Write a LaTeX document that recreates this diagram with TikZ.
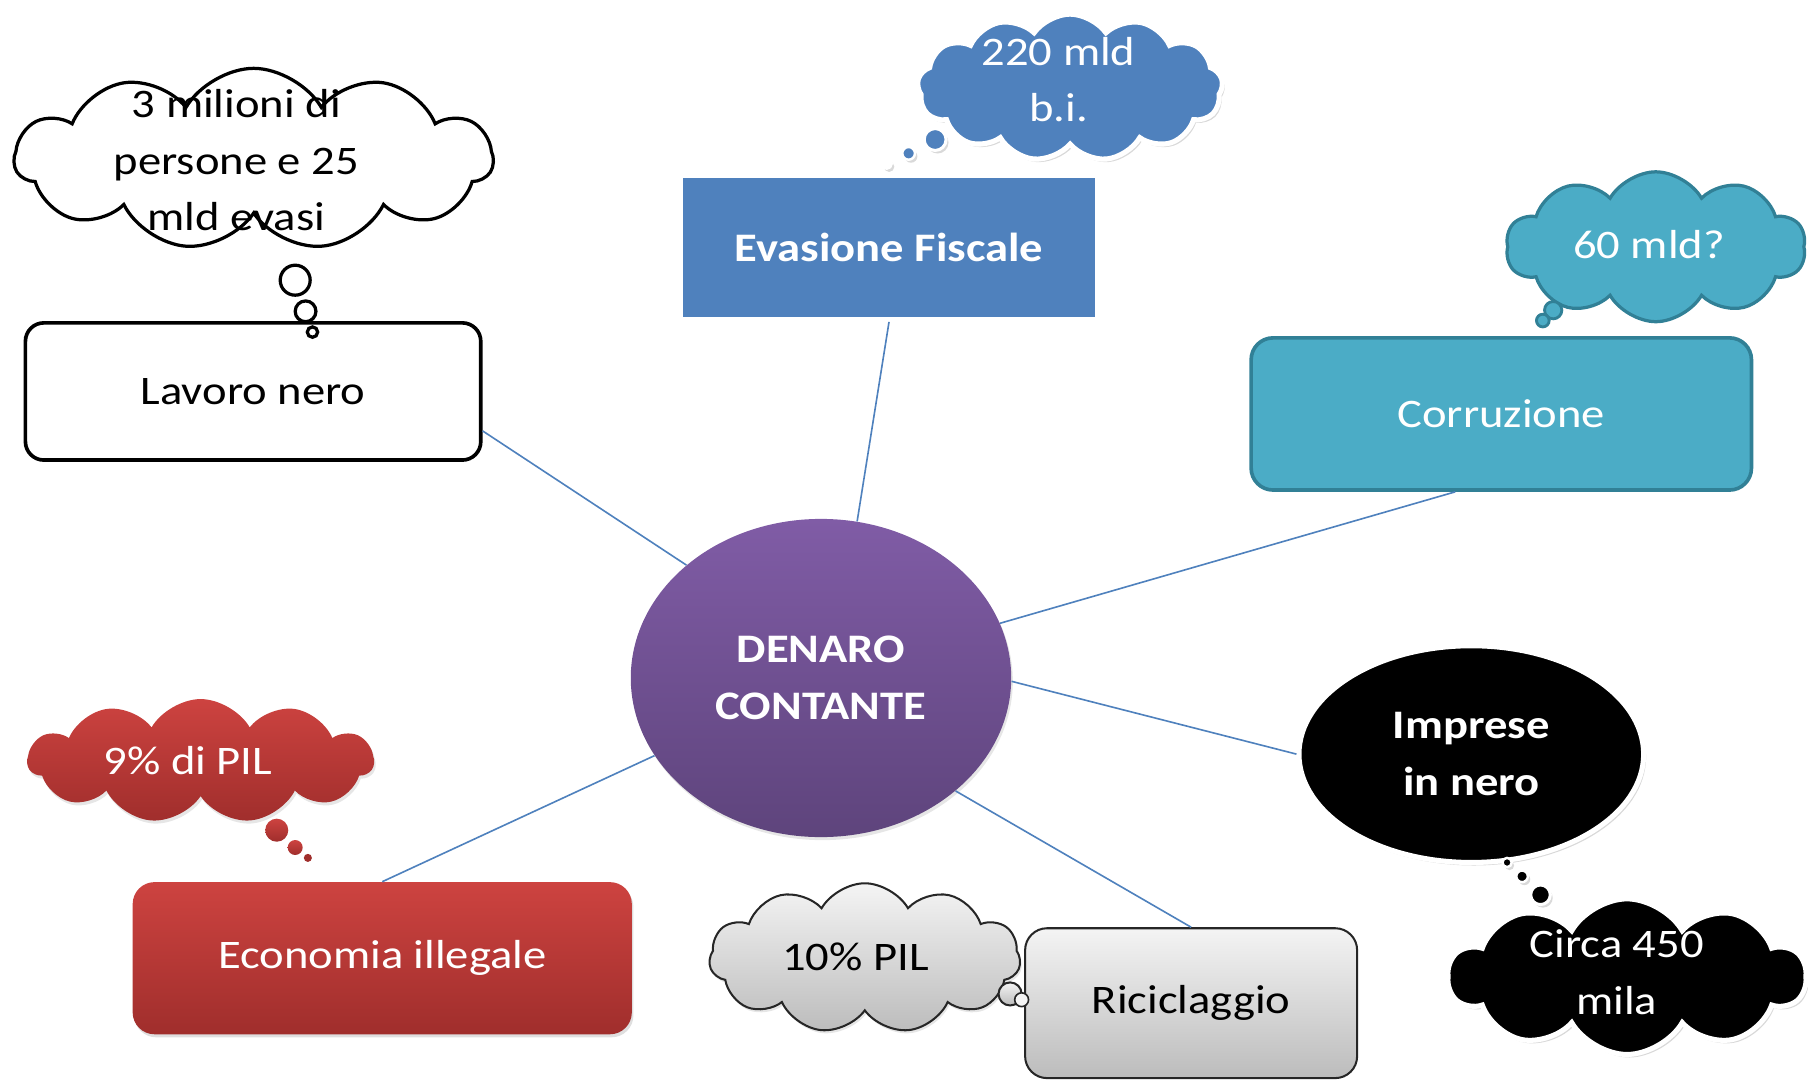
\documentclass[tikz,border=0pt]{standalone}
\usepackage{fontspec}
\setmainfont{Carlito}[FakeStretch=1.15]
\usetikzlibrary{shapes.symbols,shapes.geometric,shadows,calc}
\definecolor{blueA}{RGB}{79,129,189}
\definecolor{tealA}{RGB}{75,172,198}
\definecolor{tealD}{RGB}{49,128,150}
\definecolor{purpT}{RGB}{128,92,166}
\definecolor{purpB}{RGB}{94,68,124}
\definecolor{redT}{RGB}{205,67,64}
\definecolor{redB}{RGB}{160,46,44}
\definecolor{grayT}{RGB}{244,244,244}
\definecolor{grayB}{RGB}{188,188,188}
\begin{document}
\begin{tikzpicture}[x=0.02cm, y=-0.02cm,
  txt/.style={font=\fontsize{20}{28}\selectfont, align=center, inner sep=0pt},
  bx/.style={rectangle, inner sep=0pt, font=\fontsize{20}{28}\selectfont, align=center},
  cl/.style={cloud, cloud puffs=11, cloud puff arc=120, cloud ignores aspect, inner sep=0pt},
  bub/.style={circle, inner sep=0pt},
  shd/.style={drop shadow={opacity=0.3, shadow xshift=1.2pt, shadow yshift=-1.5pt}},
  link/.style={draw=blueA, line width=0.8pt}]
\useasboundingbox (0,0) rectangle (1568,936);

% ---- Lavoro nero
\node[bx, draw=black, line width=1.8pt, fill=white, rounded corners=0.32cm,
  minimum width=7.9cm, minimum height=2.38cm] (lav) at (219.5,339.5) {Lavoro nero};
\node[cl, draw=black, line width=1.6pt, fill=white, minimum width=8.3cm, minimum height=3.15cm] (c1) at (220,138) {};
\node[txt] (c1t) at (205,139) {3 milioni di\\persone e 25\\mld evasi};
\node[bub, draw=black, line width=1.6pt, fill=white, minimum size=0.52cm] (b11) at (256,243) {};
\node[bub, draw=black, line width=1.6pt, fill=white, minimum size=0.36cm] (b12) at (265,270) {};
\node[bub, draw=black, line width=1.6pt, fill=white, minimum size=0.18cm] (b13) at (271,288) {};

% ---- Evasione Fiscale
\node[bx, draw=white, line width=2.5pt, fill=blueA, shd, text=white, font=\fontsize{20}{28}\selectfont\bfseries,
  minimum width=7.24cm, minimum height=2.5cm] (eva) at (771,214.5) {Evasione Fiscale};
\node[cl, cloud puffs=13, cloud puff arc=110, draw=white, line width=2.5pt, fill=blueA, shd,
  minimum width=5.3cm, minimum height=2.55cm] (c2) at (928,76) {};
\node[txt, text=white] (c2t) at (918,69) {220 mld\\b.i.};
\node[bub, draw=white, line width=1.5pt, fill=blueA, shd, minimum size=0.38cm] (b21) at (811,121) {};
\node[bub, draw=white, line width=1.2pt, fill=blueA, shd, minimum size=0.22cm] (b22) at (788,133) {};
\node[bub, draw=white, line width=1pt, fill=white, shd, minimum size=0.18cm] (b23) at (769,142) {};

% ---- Corruzione
\node[bx, draw=tealD, line width=1.8pt, fill=tealA, text=white, rounded corners=0.38cm,
  minimum width=8.68cm, minimum height=2.64cm] (cor) at (1302,359) {Corruzione};
\node[cl, cloud puffs=10, draw=tealD, line width=1.6pt, fill=tealA, minimum width=5.2cm, minimum height=2.6cm] (c3) at (1436,214) {};
\node[txt, text=white] (c3t) at (1430,212) {60 mld?};
\node[bub, draw=tealD, line width=1.4pt, fill=tealA, minimum size=0.3cm] (b31) at (1347,269) {};
\node[bub, draw=tealD, line width=1.4pt, fill=tealA, minimum size=0.22cm] (b32) at (1338,278) {};

% ---- Centre
\node[ellipse, inner sep=0pt, minimum width=6.6cm, minimum height=5.52cm, top color=purpT, bottom color=purpB,
  drop shadow={opacity=0.2, shadow xshift=0.8pt, shadow yshift=-1.5pt},
  text=white, font=\fontsize{20}{28}\selectfont\bfseries, align=center] (den) at (712,588) {DENARO\\CONTANTE};

% ---- Imprese in nero
\node[ellipse, inner sep=0pt, minimum width=5.98cm, minimum height=3.76cm, fill=black, draw=white, line width=2.5pt, shd,
  text=white, font=\fontsize{20}{28}\selectfont\bfseries, align=center] (imp) at (1276,654) {Imprese\\in nero};
\node[cl, cloud puffs=10, draw=white, line width=2.5pt, fill=black, shd, minimum width=6.2cm, minimum height=2.7cm] (c4) at (1411,847) {};
\node[txt, text=white] (c4t) at (1402,843) {Circa 450\\mila};
\node[bub, draw=white, line width=1.2pt, fill=black, shd, minimum size=0.16cm] (b41) at (1307,748) {};
\node[bub, draw=white, line width=1.2pt, fill=black, shd, minimum size=0.2cm] (b42) at (1320,760) {};
\node[bub, draw=white, line width=1.5pt, fill=black, shd, minimum size=0.34cm] (b43) at (1336,776) {};

% ---- Economia illegale
\node[bx, top color=redT, bottom color=redB, text=white, rounded corners=0.38cm,
  drop shadow={opacity=0.25, shadow xshift=0.8pt, shadow yshift=-1.5pt},
  minimum width=8.66cm, minimum height=2.64cm] (eco) at (331.5,831) {Economia illegale};
\node[cl, top color=redT, bottom color=redB, minimum width=6.0cm, minimum height=2.15cm,
  drop shadow={opacity=0.2, shadow xshift=0.8pt, shadow yshift=-1.5pt}] (c5) at (174,660) {};
\node[txt, text=white] (c5t) at (163,660) {9\% di PIL};
\node[bub, top color=redT, bottom color=redB, minimum size=0.4cm] (b51) at (240,720) {};
\node[bub, top color=redT, bottom color=redB, minimum size=0.26cm] (b52) at (256,735) {};
\node[bub, fill=redB, minimum size=0.14cm] (b53) at (267,744) {};

% ---- Riciclaggio
\node[bx, top color=grayT, bottom color=grayB, draw=black!85, line width=1pt, rounded corners=0.38cm,
  minimum width=5.76cm, minimum height=2.6cm] (ric) at (1033,870) {Riciclaggio};
\node[cl, top color=grayT, bottom color=grayB, draw=black!85, line width=1pt, minimum width=5.4cm, minimum height=2.6cm,
  drop shadow={opacity=0.2, shadow xshift=0.8pt, shadow yshift=-1.5pt}] (c6) at (750,831) {};
\node[txt] (c6t) at (742,830) {10\% PIL};
\node[bub, top color=grayT, bottom color=grayB, draw=black!85, line width=1pt, minimum size=0.4cm] (b61) at (876,862) {};
\node[bub, fill=grayT, draw=black!85, line width=0.8pt, minimum size=0.24cm] (b62) at (886,867) {};

% ---- connectors
\draw[link] ($(lav.east)!0.56!(lav.south east)$) -- (den.140);
\draw[link] (eva.south) -- (den.77);
\draw[link] ($(cor.south)+(-40,0)$) -- (den.17);
\draw[link] (imp.west) -- (den.-1);
\draw[link] (ric.north) -- (den.-40);
\draw[link] (eco.north) -- (den.205);
\end{tikzpicture}
\end{document}
